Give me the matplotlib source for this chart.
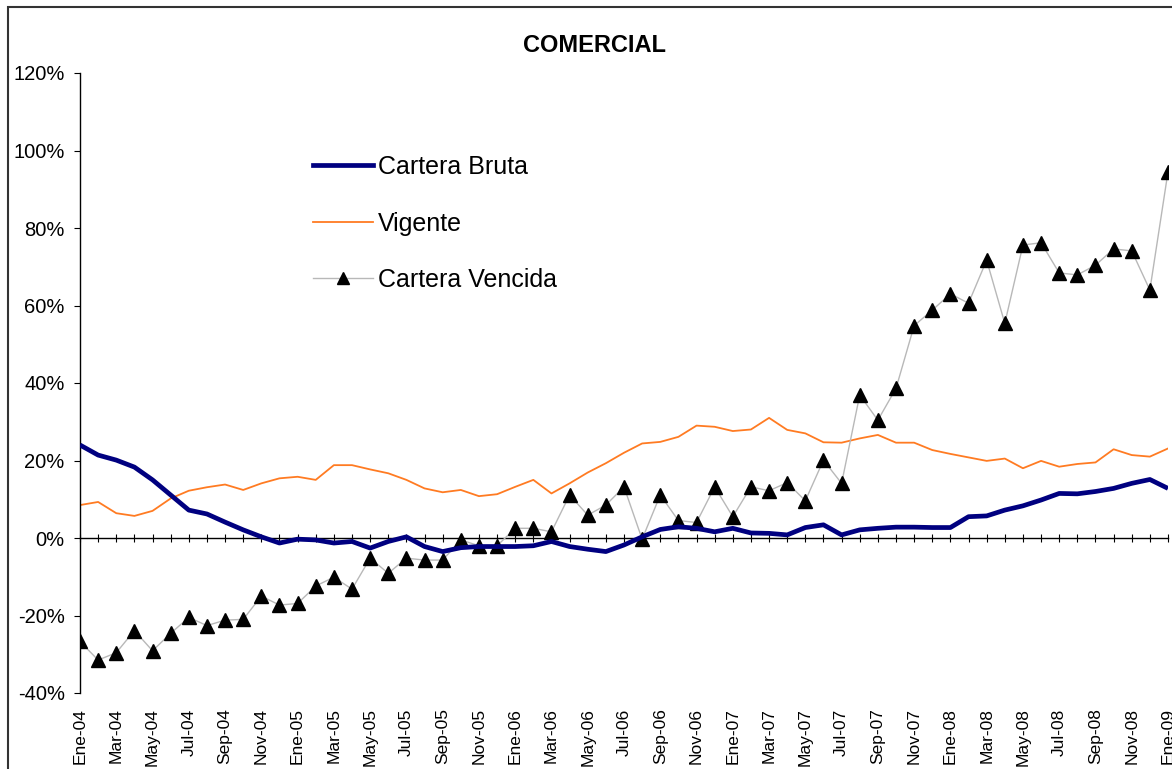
import matplotlib
matplotlib.use("Agg")
import matplotlib.pyplot as plt
from matplotlib.lines import Line2D
from matplotlib.patches import Rectangle
from matplotlib.ticker import FixedLocator, FuncFormatter

plt.rcParams['font.family'] = ['Liberation Sans', 'DejaVu Sans']

meses = ['Ene', 'Feb', 'Mar', 'Abr', 'May', 'Jun', 'Jul', 'Ago', 'Sep', 'Oct', 'Nov', 'Dic']
years = ['04', '05', '06', '07', '08', '09']
categories = [f"{m}-{y}" for y in years for m in meses][:61]

cartera_bruta = [24, 21.4, 20.1, 18.3, 15, 11.1, 7.2, 6.2, 4.1, 2.1, 0.3, -1.3, -0.3, -0.5, -1.3,
                 -0.9, -2.6, -0.9, 0.3, -2.2, -3.5, -2.5, -2.2, -2.2, -2.2, -2, -0.9, -2.2, -2.9, -3.5,
                 -1.8, 0.3, 2.2, 2.9, 2.5, 1.6, 2.5, 1.3, 1.2, 0.8, 2.7, 3.4, 0.8, 2.1, 2.5,
                 2.8, 2.8, 2.7, 2.7, 5.5, 5.7, 7.2, 8.3, 9.8, 11.5, 11.4, 12, 12.8, 14.1, 15.1, 12.8]
vigente = [8.5, 9.3, 6.4, 5.7, 7, 10.2, 12.2, 13.1, 13.8, 12.4, 14.1, 15.4, 15.8, 15, 18.8,
           18.8, 17.7, 16.7, 15, 12.8, 11.8, 12.4, 10.8, 11.3, 13.2, 15, 11.5, 14.1, 16.9, 19.3,
           22, 24.4, 24.8, 26.1, 29, 28.7, 27.6, 28, 31, 27.9, 27, 24.7, 24.6, 25.7, 26.6,
           24.6, 24.6, 22.7, 21.7, 20.8, 19.9, 20.5, 18, 19.9, 18.4, 19.1, 19.5, 22.9, 21.4, 21, 23.1]
cartera_vencida = [-26.7, -31.5, -29.6, -23.9, -29.1, -24.6, -20.5, -22.6, -21.2, -21, -15, -17.3, -16.9, -12.4, -10.1,
                   -13.2, -5.2, -9.1, -5.2, -5.7, -5.7, -0.5, -2, -2, 2.5, 2.5, 1.6, 11.1, 5.9, 8.5,
                   13.2, -0.3, 11.1, 4.5, 4, 13.2, 5.5, 13.2, 12.2, 14.3, 9.6, 20.1, 14.1, 36.9, 30.4,
                   38.6, 54.8, 58.8, 63, 60.6, 71.7, 55.4, 75.6, 76.2, 68.4, 67.9, 70.4, 74.6, 74.1, 64, 94.5]

y_ticks = [-40, -20, 0, 20, 40, 60, 80, 100, 120]

C_BRUTA = '#000080'
C_VIG = '#ff7b22'
C_VENC = '#b8b8b8'

W, H = 1172, 769
fig = plt.figure(figsize=(W / 100, H / 100), dpi=100)
ax = fig.add_axes([80 / W, 1 - 693 / H, (1168 - 80) / W, (693 - 73) / H])

x = list(range(len(categories)))
ax.plot(x, vigente, color=C_VIG, lw=1.3, zorder=2)
ax.plot(x, cartera_vencida, color=C_VENC, lw=1.0, marker='^', markersize=10,
        markerfacecolor='black', markeredgecolor='black', zorder=3)
ax.plot(x, cartera_bruta, color=C_BRUTA, lw=3.4, zorder=4, solid_capstyle='butt')

ax.set_xlim(0, 60)
ax.set_ylim(-40, 120)

for s in ['top', 'right']:
    ax.spines[s].set_visible(False)
ax.spines['bottom'].set_position(('data', 0))
ax.spines['bottom'].set_color('black')
ax.spines['bottom'].set_linewidth(1.0)
ax.spines['left'].set_color('black')
ax.spines['left'].set_linewidth(1.0)

ax.set_yticks(y_ticks)
ax.yaxis.set_major_formatter(FuncFormatter(lambda v, p: f"{int(v)}%"))
ax.tick_params(axis='y', direction='out', length=4, labelsize=14.5, pad=7)

ax.xaxis.set_major_locator(FixedLocator(x))
ax.tick_params(axis='x', direction='inout', length=6, labelbottom=False)

sec = ax.secondary_xaxis(0.0)
sec.set_xticks(x[::2])
sec.set_xticklabels(categories[::2], rotation=90, fontsize=12.5)
sec.tick_params(axis='x', length=0, pad=11)
sec.spines['bottom'].set_visible(False)

fig.text(594 / W, 1 - 45 / H, 'COMERCIAL', fontsize=17, fontweight='bold', ha='center', va='center')

handles = [Line2D([], [], color=C_BRUTA, lw=3.4),
           Line2D([], [], color=C_VIG, lw=1.3),
           Line2D([], [], color=C_VENC, lw=1.0, marker='^', markersize=8,
                  markerfacecolor='black', markeredgecolor='black')]
leg = ax.legend(handles, ['Cartera Bruta', 'Vigente', 'Cartera Vencida'], loc='upper left',
                bbox_to_anchor=((303 - 80) / (1168 - 80), (693 - 145) / (693 - 73)),
                frameon=False, fontsize=18, labelspacing=1.3, handlelength=2.4, handletextpad=0.2,
                borderaxespad=0)

fig.patches.append(Rectangle((8 / W, -0.05), 1.1, 1 - 7 / H + 0.05, transform=fig.transFigure,
                             fill=False, edgecolor='#333333', lw=1.5))

fig.savefig('out.png', dpi=100)
